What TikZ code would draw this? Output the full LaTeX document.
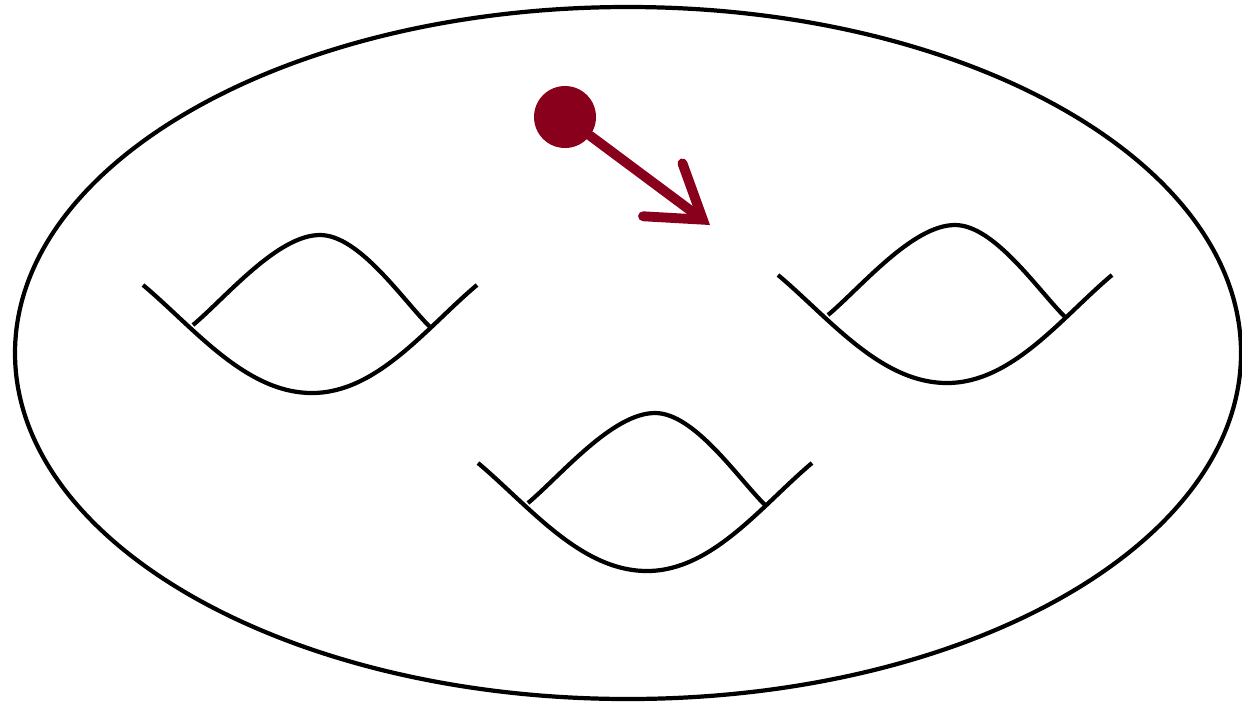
\documentclass[tikz,border=0pt]{standalone}
\usetikzlibrary{arrows.meta}
\definecolor{pointred}{RGB}{136,0,27}
\tikzset{
  surf/.style={line width=1.2pt},
  handle/.pic={
    \draw[surf] (0,0) to[out=-40,in=180,looseness=0.85] (1.69,-1.08)
      to[out=0,in=220,looseness=0.85] (3.34,0);
    \draw[surf] (0.50,-0.40) to[out=40,in=180,looseness=0.7] (1.77,0.50)
      to[out=0,in=135,looseness=0.7] (2.87,-0.42);
  },
  pointdot/.style={circle, fill=pointred, inner sep=0pt, minimum size=0.62cm},
  flow/.style={pointred, line width=2.8pt, line cap=round,
    -{Straight Barb[length=0.5cm,width=0.66cm,line cap=round]}},
}
\begin{document}
\begin{tikzpicture}[x=1cm,y=1cm]
\useasboundingbox (0,0) rectangle (12.42,-7.04);
% surface of genus three
\draw[surf] (6.28,-3.53) ellipse [x radius=6.13, y radius=3.46];
\pic at (1.43,-2.85) {handle};
\pic at (7.78,-2.75) {handle};
\pic at (4.78,-4.63) {handle};
% moving point
\node[pointdot] (pt) at (5.65,-1.17) {};
\coordinate (tip) at (7.10,-2.25);
\draw[flow] (pt) -- (tip);
\end{tikzpicture}
\end{document}
